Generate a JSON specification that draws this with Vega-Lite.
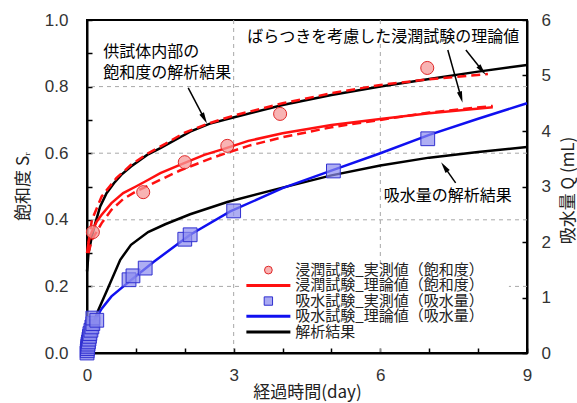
{
  "$schema": "https://vega.github.io/schema/vega-lite/v6.json",
  "width": 440,
  "height": 333,
  "autosize": {"type": "none"},
  "padding": {"left": 87, "top": 20, "right": 50, "bottom": 50},
  "config": {
    "view": {"stroke": "black", "strokeWidth": 2},
    "font": "Noto Sans CJK JP",
    "axis": {
      "domainColor": "black", "domainWidth": 2, "tickColor": "black", "tickWidth": 1.5,
      "labelFont": "Liberation Sans", "labelFontSize": 17, "labelColor": "#333",
      "titleFont": "Noto Sans CJK JP", "titleFontSize": 17, "titleFontWeight": "normal", "titleColor": "#222",
      "grid": false, "labelFlush": false, "labelOverlap": false, "tickSize": -5
    },
    "axisBottom": {
      "tickCount": 9, "labelPadding": 19,
      "labelExpr": "datum.value % 3 == 0 ? datum.value : ''",
      "titleX": 220, "titleY": 39, "titleBaseline": "middle", "titleAlign": "center", "titleAngle": 0
    },
    "axisLeft": {
      "tickCount": 10, "labelPadding": 24,
      "labelExpr": "round(datum.value * 10) % 2 == 0 ? format(datum.value, '.1f') : ''",
      "titleX": -64, "titleY": 166, "titleAngle": 270, "titleBaseline": "middle", "titleAlign": "center"
    },
    "axisRight": {
      "tickCount": 6, "labelPadding": 19,
      "titleX": 41, "titleY": 170, "titleAngle": 270, "titleBaseline": "middle", "titleAlign": "center"
    }
  },
  "datasets": {
    "sr": [
      {"s": "solid", "t": 0, "v": 0.30}, {"s": "solid", "t": 0.03, "v": 0.33}, {"s": "solid", "t": 0.06, "v": 0.35},
      {"s": "solid", "t": 0.12, "v": 0.37}, {"s": "solid", "t": 0.2, "v": 0.395}, {"s": "solid", "t": 0.3, "v": 0.415},
      {"s": "solid", "t": 0.5, "v": 0.45}, {"s": "solid", "t": 0.74, "v": 0.48}, {"s": "solid", "t": 1.0, "v": 0.5},
      {"s": "solid", "t": 1.19, "v": 0.515}, {"s": "solid", "t": 1.5, "v": 0.54}, {"s": "solid", "t": 1.9, "v": 0.565},
      {"s": "solid", "t": 2.4, "v": 0.595}, {"s": "solid", "t": 2.8, "v": 0.613}, {"s": "solid", "t": 3.3, "v": 0.637},
      {"s": "solid", "t": 4.0, "v": 0.66}, {"s": "solid", "t": 5.0, "v": 0.685}, {"s": "solid", "t": 6.0, "v": 0.703},
      {"s": "solid", "t": 7.0, "v": 0.72}, {"s": "solid", "t": 8.3, "v": 0.738},

      {"s": "dashU", "t": 0.03, "v": 0.33}, {"s": "dashU", "t": 0.1, "v": 0.40}, {"s": "dashU", "t": 0.3, "v": 0.47},
      {"s": "dashU", "t": 0.6, "v": 0.525}, {"s": "dashU", "t": 0.9, "v": 0.565}, {"s": "dashU", "t": 1.25, "v": 0.6},
      {"s": "dashU", "t": 1.6, "v": 0.628}, {"s": "dashU", "t": 2.0, "v": 0.662}, {"s": "dashU", "t": 2.5, "v": 0.69},
      {"s": "dashU", "t": 3.0, "v": 0.713}, {"s": "dashU", "t": 4.0, "v": 0.75}, {"s": "dashU", "t": 5.0, "v": 0.78},
      {"s": "dashU", "t": 6.0, "v": 0.805}, {"s": "dashU", "t": 7.0, "v": 0.822}, {"s": "dashU", "t": 8.2, "v": 0.838},

      {"s": "dashL", "t": 0.03, "v": 0.30}, {"s": "dashL", "t": 0.1, "v": 0.34}, {"s": "dashL", "t": 0.3, "v": 0.39},
      {"s": "dashL", "t": 0.5, "v": 0.43}, {"s": "dashL", "t": 0.74, "v": 0.462}, {"s": "dashL", "t": 1.0, "v": 0.485},
      {"s": "dashL", "t": 1.5, "v": 0.52}, {"s": "dashL", "t": 1.9, "v": 0.548}, {"s": "dashL", "t": 2.6, "v": 0.588},
      {"s": "dashL", "t": 3.3, "v": 0.622}, {"s": "dashL", "t": 4.0, "v": 0.648}, {"s": "dashL", "t": 5.0, "v": 0.678},
      {"s": "dashL", "t": 6.0, "v": 0.70}, {"s": "dashL", "t": 7.0, "v": 0.722}, {"s": "dashL", "t": 8.3, "v": 0.742},

      {"s": "blackU", "t": 0, "v": 0.245}, {"s": "blackU", "t": 0.01, "v": 0.26}, {"s": "blackU", "t": 0.03, "v": 0.30},
      {"s": "blackU", "t": 0.1, "v": 0.35}, {"s": "blackU", "t": 0.17, "v": 0.39}, {"s": "blackU", "t": 0.27, "v": 0.44},
      {"s": "blackU", "t": 0.4, "v": 0.48}, {"s": "blackU", "t": 0.55, "v": 0.51}, {"s": "blackU", "t": 0.7, "v": 0.535},
      {"s": "blackU", "t": 0.9, "v": 0.56}, {"s": "blackU", "t": 1.23, "v": 0.595}, {"s": "blackU", "t": 1.5, "v": 0.615},
      {"s": "blackU", "t": 2.11, "v": 0.665}, {"s": "blackU", "t": 2.5, "v": 0.688}, {"s": "blackU", "t": 2.93, "v": 0.705},
      {"s": "blackU", "t": 4.0, "v": 0.745}, {"s": "blackU", "t": 5.0, "v": 0.775}, {"s": "blackU", "t": 6.0, "v": 0.80},
      {"s": "blackU", "t": 7.0, "v": 0.823}, {"s": "blackU", "t": 8.0, "v": 0.845}, {"s": "blackU", "t": 9.0, "v": 0.865}
    ],
    "obsSr": [
      {"t": 0.12, "v": 0.363}, {"t": 1.15, "v": 0.483}, {"t": 2.0, "v": 0.573},
      {"t": 2.87, "v": 0.622}, {"t": 3.95, "v": 0.718}, {"t": 6.96, "v": 0.856}
    ],
    "q": [
      {"s": "blue", "t": 0, "v": 0}, {"s": "blue", "t": 0.02, "v": 0.2}, {"s": "blue", "t": 0.05, "v": 0.33},
      {"s": "blue", "t": 0.1, "v": 0.46}, {"s": "blue", "t": 0.2, "v": 0.65}, {"s": "blue", "t": 0.3, "v": 0.8},
      {"s": "blue", "t": 0.5, "v": 1.02}, {"s": "blue", "t": 0.88, "v": 1.3}, {"s": "blue", "t": 1.36, "v": 1.64},
      {"s": "blue", "t": 2.11, "v": 2.13}, {"s": "blue", "t": 2.93, "v": 2.55}, {"s": "blue", "t": 4.0, "v": 2.97},
      {"s": "blue", "t": 5.04, "v": 3.3}, {"s": "blue", "t": 6.0, "v": 3.6}, {"s": "blue", "t": 7.0, "v": 3.93},
      {"s": "blue", "t": 8.0, "v": 4.22}, {"s": "blue", "t": 9.0, "v": 4.5},

      {"s": "blackL", "t": 0, "v": 0}, {"s": "blackL", "t": 0.03, "v": 0.2}, {"s": "blackL", "t": 0.07, "v": 0.38},
      {"s": "blackL", "t": 0.12, "v": 0.52}, {"s": "blackL", "t": 0.23, "v": 0.77}, {"s": "blackL", "t": 0.41, "v": 1.13},
      {"s": "blackL", "t": 0.68, "v": 1.68}, {"s": "blackL", "t": 0.9, "v": 1.95}, {"s": "blackL", "t": 1.25, "v": 2.18},
      {"s": "blackL", "t": 1.6, "v": 2.32}, {"s": "blackL", "t": 2.11, "v": 2.5}, {"s": "blackL", "t": 2.87, "v": 2.72},
      {"s": "blackL", "t": 4.0, "v": 2.98}, {"s": "blackL", "t": 5.0, "v": 3.2}, {"s": "blackL", "t": 6.0, "v": 3.38},
      {"s": "blackL", "t": 7.0, "v": 3.52}, {"s": "blackL", "t": 8.0, "v": 3.62}, {"s": "blackL", "t": 9.0, "v": 3.71}
    ],
    "obsQ": [
      {"t": 0.0, "v": 0.0}, {"t": 0.005, "v": 0.04}, {"t": 0.01, "v": 0.08}, {"t": 0.015, "v": 0.12},
      {"t": 0.02, "v": 0.16}, {"t": 0.03, "v": 0.2}, {"t": 0.04, "v": 0.25}, {"t": 0.05, "v": 0.3},
      {"t": 0.06, "v": 0.35}, {"t": 0.08, "v": 0.41}, {"t": 0.1, "v": 0.47}, {"t": 0.12, "v": 0.53},
      {"t": 0.12, "v": 0.63}, {"t": 0.2, "v": 0.59},
      {"t": 0.86, "v": 1.32}, {"t": 0.94, "v": 1.39}, {"t": 1.19, "v": 1.53},
      {"t": 2.0, "v": 2.05}, {"t": 2.11, "v": 2.13}, {"t": 3.0, "v": 2.56},
      {"t": 5.04, "v": 3.28}, {"t": 6.97, "v": 3.86}
    ],
    "arrows": [
      {"id": 1, "t": 2.07, "v": 0.796, "t2": 2.40, "v2": 0.704},
      {"id": 2, "t": 7.38, "v": 0.91, "t2": 7.65, "v2": 0.768},
      {"id": 3, "t": 7.75, "v": 0.91, "t2": 8.08, "v2": 0.849},
      {"id": 4, "t": 7.54, "v": 0.511, "t2": 7.31, "v2": 0.559}
    ],
    "notes": [
      {"t": 0.33, "v": 0.904, "label": "供試体内部の"},
      {"t": 0.33, "v": 0.841, "label": "飽和度の解析結果"},
      {"t": 3.28, "v": 0.949, "label": "ばらつきを考慮した浸潤試験の理論値"},
      {"t": 6.07, "v": 0.471, "label": "吸水量の解析結果"}
    ],
    "legendText": [
      {"t": 4.26, "v": 0.249, "label": "浸潤試験_実測値（飽和度）"},
      {"t": 4.26, "v": 0.203, "label": "浸潤試験_理論値（飽和度）"},
      {"t": 4.26, "v": 0.156, "label": "吸水試験_実測値（吸水量）"},
      {"t": 4.26, "v": 0.110, "label": "吸水試験_理論値（吸水量）"},
      {"t": 4.26, "v": 0.063, "label": "解析結果"}
    ],
    "legendLines": [
      {"s": "red", "t": 3.26, "t2": 4.16, "v": 0.203},
      {"s": "blue", "t": 3.26, "t2": 4.16, "v": 0.110},
      {"s": "black", "t": 3.26, "t2": 4.16, "v": 0.063}
    ],
    "legendSym": [
      {"s": "circle", "t": 3.71, "v": 0.249},
      {"s": "square", "t": 3.71, "v": 0.156}
    ],
    "legendBox": [{"t": 3.18, "t2": 8.63, "v": 0.264, "v2": 0.024}],
    "gridX": [{"t": 3}, {"t": 6}],
    "gridY": [{"v": 0.2}, {"v": 0.4}, {"v": 0.6}, {"v": 0.8}]
  },
  "layer": [
    {
      "layer": [
        {
          "data": {"name": "gridX"},
          "mark": {"type": "rule", "color": "#a8a8a8", "strokeWidth": 1, "strokeDash": [4, 4]},
          "encoding": {
            "x": {"field": "t", "type": "quantitative", "scale": {"domain": [0, 9], "nice": false}, "title": "経過時間(day)"}
          }
        },
        {
          "data": {"name": "gridY"},
          "mark": {"type": "rule", "color": "#a8a8a8", "strokeWidth": 1, "strokeDash": [4, 4]},
          "encoding": {
            "y": {"field": "v", "type": "quantitative", "scale": {"domain": [0, 1], "nice": false}, "title": "飽和度 Sᵣ"}
          }
        },
        {
          "data": {"name": "sr"},
          "transform": [{"filter": "datum.s == 'blackU'"}],
          "mark": {"type": "line", "color": "black", "strokeWidth": 2.5},
          "encoding": {
            "x": {"field": "t", "type": "quantitative", "scale": {"domain": [0, 9], "nice": false}, "title": "経過時間(day)"},
            "y": {"field": "v", "type": "quantitative", "scale": {"domain": [0, 1], "nice": false}, "title": "飽和度 Sᵣ"}
          }
        },
        {
          "data": {"name": "sr"},
          "transform": [{"filter": "datum.s == 'dashU' || datum.s == 'dashL'"}],
          "mark": {"type": "line", "color": "#ff1010", "strokeWidth": 2.5, "strokeDash": [9, 5]},
          "encoding": {
            "x": {"field": "t", "type": "quantitative", "scale": {"domain": [0, 9], "nice": false}, "title": "経過時間(day)"},
            "y": {"field": "v", "type": "quantitative", "scale": {"domain": [0, 1], "nice": false}, "title": "飽和度 Sᵣ"},
            "detail": {"field": "s"}
          }
        },
        {
          "data": {"name": "sr"},
          "transform": [{"filter": "datum.s == 'solid'"}],
          "mark": {"type": "line", "color": "#ff1010", "strokeWidth": 2.5},
          "encoding": {
            "x": {"field": "t", "type": "quantitative", "scale": {"domain": [0, 9], "nice": false}, "title": "経過時間(day)"},
            "y": {"field": "v", "type": "quantitative", "scale": {"domain": [0, 1], "nice": false}, "title": "飽和度 Sᵣ"}
          }
        },
        {
          "data": {"name": "obsSr"},
          "mark": {"type": "point", "shape": "circle", "filled": true, "fill": "#f59a9a", "fillOpacity": 0.75, "stroke": "#e02828", "strokeWidth": 1, "size": 170},
          "encoding": {
            "x": {"field": "t", "type": "quantitative", "scale": {"domain": [0, 9], "nice": false}, "title": "経過時間(day)"},
            "y": {"field": "v", "type": "quantitative", "scale": {"domain": [0, 1], "nice": false}, "title": "飽和度 Sᵣ"}
          }
        },
        {
          "data": {"name": "legendBox"},
          "mark": {"type": "rect", "fill": "white"},
          "encoding": {
            "x": {"field": "t", "type": "quantitative", "scale": {"domain": [0, 9], "nice": false}, "title": "経過時間(day)"},
            "x2": {"field": "t2"},
            "y": {"field": "v", "type": "quantitative", "scale": {"domain": [0, 1], "nice": false}, "title": "飽和度 Sᵣ"},
            "y2": {"field": "v2"}
          }
        },
        {
          "data": {"name": "legendLines"},
          "transform": [{"filter": "datum.s == 'red'"}],
          "mark": {"type": "rule", "color": "#ff1010", "strokeWidth": 3},
          "encoding": {
            "x": {"field": "t", "type": "quantitative", "scale": {"domain": [0, 9], "nice": false}, "title": "経過時間(day)"},
            "x2": {"field": "t2"},
            "y": {"field": "v", "type": "quantitative", "scale": {"domain": [0, 1], "nice": false}, "title": "飽和度 Sᵣ"}
          }
        },
        {
          "data": {"name": "legendLines"},
          "transform": [{"filter": "datum.s == 'blue'"}],
          "mark": {"type": "rule", "color": "#1010f0", "strokeWidth": 3},
          "encoding": {
            "x": {"field": "t", "type": "quantitative", "scale": {"domain": [0, 9], "nice": false}, "title": "経過時間(day)"},
            "x2": {"field": "t2"},
            "y": {"field": "v", "type": "quantitative", "scale": {"domain": [0, 1], "nice": false}, "title": "飽和度 Sᵣ"}
          }
        },
        {
          "data": {"name": "legendLines"},
          "transform": [{"filter": "datum.s == 'black'"}],
          "mark": {"type": "rule", "color": "black", "strokeWidth": 3},
          "encoding": {
            "x": {"field": "t", "type": "quantitative", "scale": {"domain": [0, 9], "nice": false}, "title": "経過時間(day)"},
            "x2": {"field": "t2"},
            "y": {"field": "v", "type": "quantitative", "scale": {"domain": [0, 1], "nice": false}, "title": "飽和度 Sᵣ"}
          }
        },
        {
          "data": {"name": "legendSym"},
          "transform": [{"filter": "datum.s == 'circle'"}],
          "mark": {"type": "point", "shape": "circle", "filled": true, "fill": "#f59a9a", "fillOpacity": 0.75, "stroke": "#e02828", "strokeWidth": 1, "size": 60},
          "encoding": {
            "x": {"field": "t", "type": "quantitative", "scale": {"domain": [0, 9], "nice": false}, "title": "経過時間(day)"},
            "y": {"field": "v", "type": "quantitative", "scale": {"domain": [0, 1], "nice": false}, "title": "飽和度 Sᵣ"}
          }
        },
        {
          "data": {"name": "legendSym"},
          "transform": [{"filter": "datum.s == 'square'"}],
          "mark": {"type": "point", "shape": "square", "filled": true, "fill": "#8c8cee", "fillOpacity": 0.75, "stroke": "#3030d0", "strokeWidth": 1, "size": 70},
          "encoding": {
            "x": {"field": "t", "type": "quantitative", "scale": {"domain": [0, 9], "nice": false}, "title": "経過時間(day)"},
            "y": {"field": "v", "type": "quantitative", "scale": {"domain": [0, 1], "nice": false}, "title": "飽和度 Sᵣ"}
          }
        },
        {
          "data": {"name": "legendText"},
          "mark": {"type": "text", "align": "left", "baseline": "middle", "font": "Noto Sans CJK JP", "fontSize": 15, "color": "#222"},
          "encoding": {
            "x": {"field": "t", "type": "quantitative", "scale": {"domain": [0, 9], "nice": false}, "title": "経過時間(day)"},
            "y": {"field": "v", "type": "quantitative", "scale": {"domain": [0, 1], "nice": false}, "title": "飽和度 Sᵣ"},
            "text": {"field": "label"}
          }
        },
        {
          "data": {"name": "notes"},
          "mark": {"type": "text", "align": "left", "baseline": "middle", "font": "Noto Sans CJK JP", "fontSize": 16, "color": "black"},
          "encoding": {
            "x": {"field": "t", "type": "quantitative", "scale": {"domain": [0, 9], "nice": false}, "title": "経過時間(day)"},
            "y": {"field": "v", "type": "quantitative", "scale": {"domain": [0, 1], "nice": false}, "title": "飽和度 Sᵣ"},
            "text": {"field": "label"}
          }
        },
        {
          "data": {"name": "arrows"},
          "mark": {"type": "rule", "color": "black", "strokeWidth": 1.5},
          "encoding": {
            "x": {"field": "t", "type": "quantitative", "scale": {"domain": [0, 9], "nice": false}, "title": "経過時間(day)"},
            "x2": {"field": "t2"},
            "y": {"field": "v", "type": "quantitative", "scale": {"domain": [0, 1], "nice": false}, "title": "飽和度 Sᵣ"},
            "y2": {"field": "v2"}
          }
        },
        {
          "data": {"name": "arrows"},
          "transform": [{"filter": "datum.id == 1"}],
          "mark": {"type": "point", "shape": "M0,-1L0.45,1L-0.45,1Z", "filled": true, "color": "black", "opacity": 1, "size": 130, "angle": 152},
          "encoding": {
            "x": {"field": "t2", "type": "quantitative", "scale": {"domain": [0, 9], "nice": false}, "title": "経過時間(day)"},
            "y": {"field": "v2", "type": "quantitative", "scale": {"domain": [0, 1], "nice": false}, "title": "飽和度 Sᵣ"}
          }
        },
        {
          "data": {"name": "arrows"},
          "transform": [{"filter": "datum.id == 2"}],
          "mark": {"type": "point", "shape": "M0,-1L0.45,1L-0.45,1Z", "filled": true, "color": "black", "opacity": 1, "size": 130, "angle": 164},
          "encoding": {
            "x": {"field": "t2", "type": "quantitative", "scale": {"domain": [0, 9], "nice": false}, "title": "経過時間(day)"},
            "y": {"field": "v2", "type": "quantitative", "scale": {"domain": [0, 1], "nice": false}, "title": "飽和度 Sᵣ"}
          }
        },
        {
          "data": {"name": "arrows"},
          "transform": [{"filter": "datum.id == 3"}],
          "mark": {"type": "point", "shape": "M0,-1L0.45,1L-0.45,1Z", "filled": true, "color": "black", "opacity": 1, "size": 130, "angle": 141},
          "encoding": {
            "x": {"field": "t2", "type": "quantitative", "scale": {"domain": [0, 9], "nice": false}, "title": "経過時間(day)"},
            "y": {"field": "v2", "type": "quantitative", "scale": {"domain": [0, 1], "nice": false}, "title": "飽和度 Sᵣ"}
          }
        },
        {
          "data": {"name": "arrows"},
          "transform": [{"filter": "datum.id == 4"}],
          "mark": {"type": "point", "shape": "M0,-1L0.45,1L-0.45,1Z", "filled": true, "color": "black", "opacity": 1, "size": 130, "angle": -35},
          "encoding": {
            "x": {"field": "t2", "type": "quantitative", "scale": {"domain": [0, 9], "nice": false}, "title": "経過時間(day)"},
            "y": {"field": "v2", "type": "quantitative", "scale": {"domain": [0, 1], "nice": false}, "title": "飽和度 Sᵣ"}
          }
        }
      ]
    },
    {
      "layer": [
        {
          "data": {"name": "q"},
          "transform": [{"filter": "datum.s == 'blackL'"}],
          "mark": {"type": "line", "color": "black", "strokeWidth": 2.5},
          "encoding": {
            "x": {"field": "t", "type": "quantitative", "scale": {"domain": [0, 9], "nice": false}, "title": "経過時間(day)"},
            "y": {"field": "v", "type": "quantitative", "scale": {"domain": [0, 6], "nice": false}, "title": "吸水量 Q (mL)", "axis": {"orient": "right"}}
          }
        },
        {
          "data": {"name": "q"},
          "transform": [{"filter": "datum.s == 'blue'"}],
          "mark": {"type": "line", "color": "#1010f0", "strokeWidth": 2.5},
          "encoding": {
            "x": {"field": "t", "type": "quantitative", "scale": {"domain": [0, 9], "nice": false}, "title": "経過時間(day)"},
            "y": {"field": "v", "type": "quantitative", "scale": {"domain": [0, 6], "nice": false}, "title": "吸水量 Q (mL)", "axis": {"orient": "right"}}
          }
        },
        {
          "data": {"name": "obsQ"},
          "mark": {"type": "point", "shape": "square", "filled": true, "fill": "#8c8cee", "fillOpacity": 0.7, "stroke": "#3030d0", "strokeWidth": 1, "size": 190},
          "encoding": {
            "x": {"field": "t", "type": "quantitative", "scale": {"domain": [0, 9], "nice": false}, "title": "経過時間(day)"},
            "y": {"field": "v", "type": "quantitative", "scale": {"domain": [0, 6], "nice": false}, "title": "吸水量 Q (mL)", "axis": {"orient": "right"}}
          }
        }
      ]
    }
  ],
  "resolve": {"scale": {"y": "independent"}}
}
